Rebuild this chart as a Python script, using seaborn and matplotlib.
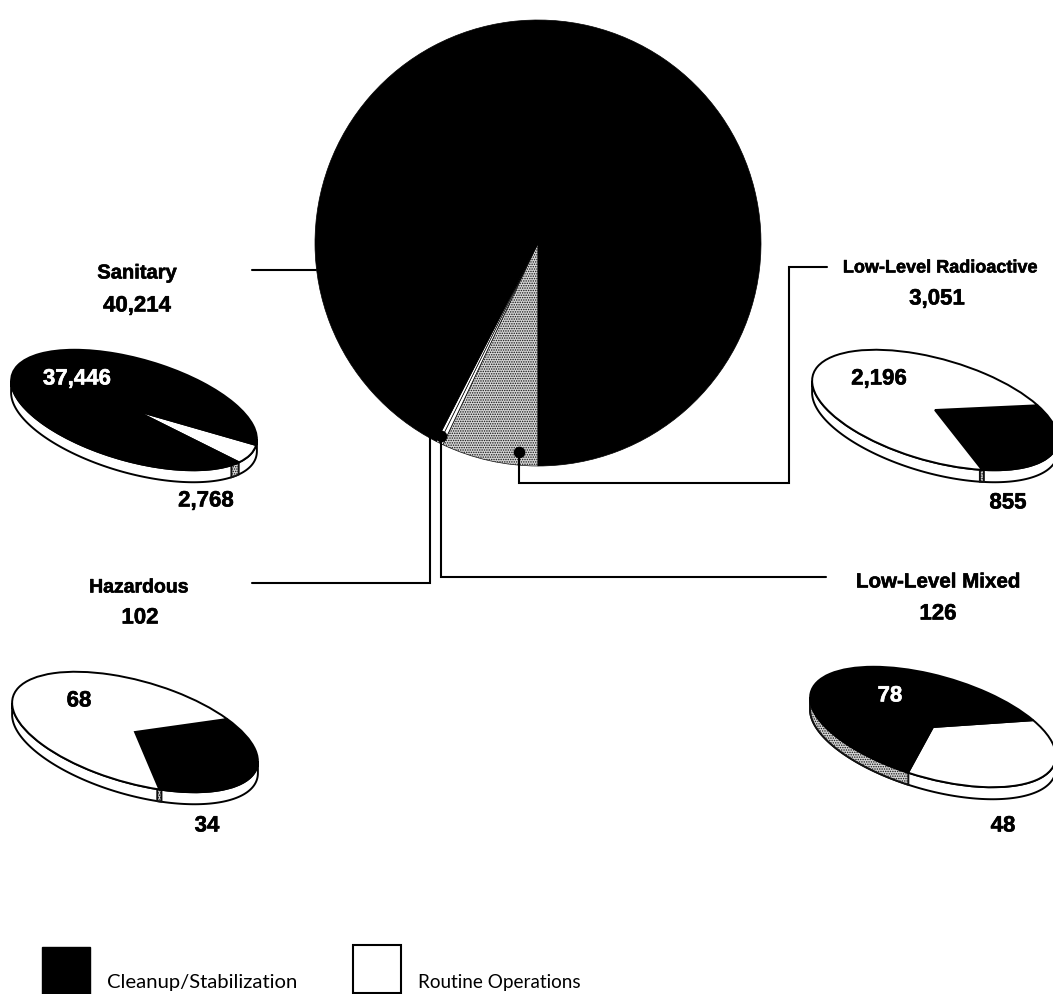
import matplotlib
matplotlib.use('Agg')
import matplotlib.pyplot as plt
import matplotlib.patheffects as pe
from matplotlib.patches import Polygon, Rectangle
from matplotlib.transforms import Affine2D
import numpy as np
import seaborn as sns

# waste volumes
main_names = ['Low-Level Radioactive', 'Low-Level Mixed', 'Hazardous', 'Sanitary']
main_values = [3051, 126, 102, 40214]

sanitary_values = [2768, 37446]
radioactive_values = [855, 2196]
mixed_values = [48, 78]
hazardous_values = [34, 68]

legend_names = ['Cleanup/Stabilization', 'Routine Operations']

W, H = 1053, 995
TILT = 16
A, B = 127, 51
DEPTH = 12
SPECKLE = 'speckle'

sns.set_theme(style='white')
plt.rcParams['font.family'] = ['Liberation Sans', 'DejaVu Sans']
plt.rcParams['hatch.linewidth'] = 0.7

fig = plt.figure(figsize=(W / 100, H / 100), dpi=100, facecolor='white')
ax = fig.add_axes([0, 0, 1, 1])


def py(y):
    # picture rows count from the top
    return H - y


def set_speckle(patch):
    patch.set_facecolor('#d6d6d6')
    patch.set_hatch('.......')
    patch.set_edgecolor('#111111')


def ellipse_xy(cx, cy, t):
    t = np.radians(t)
    th = np.radians(TILT)
    x = A * np.cos(t) * np.cos(th) + B * np.sin(t) * np.sin(th)
    y = -A * np.cos(t) * np.sin(th) + B * np.sin(t) * np.cos(th)
    return cx + x, py(cy) + y


def rim_band(cx, cy, t0, t1, face='white'):
    t = np.linspace(t0, t1, 120)
    x, y = ellipse_xy(cx, cy, t)
    pts = np.vstack([np.c_[x, y], np.c_[x[::-1], y[::-1] - DEPTH]])
    band = Polygon(pts, closed=True, facecolor='white', edgecolor='black', lw=1.4, zorder=0.5)
    if face == SPECKLE:
        set_speckle(band)
    ax.add_patch(band)


def small_pie(values, colors, start, cx, cy, bands):
    wedges, _ = ax.pie(values, colors=colors, startangle=start, counterclock=False,
                       center=(0, 0), radius=1, frame=True,
                       wedgeprops={'edgecolor': 'black', 'linewidth': 1.4})
    tr = Affine2D().scale(A, B).rotate_deg(-TILT).translate(cx, py(cy)) + ax.transData
    for w in wedges:
        w.set_transform(tr)
    # rim, left extreme to right extreme along the lower side
    t_right = np.degrees(np.arctan2(B * np.sin(np.radians(TILT)), A * np.cos(np.radians(TILT))))
    rim_band(cx, cy, t_right - 180, t_right)
    for t0, t1, face in bands:
        rim_band(cx, cy, t0, t1, face)


# big pie
main_wedges, _ = ax.pie(main_values, colors=['white', 'white', 'white', 'black'],
                        startangle=270, counterclock=False, center=(538, py(244)), radius=223,
                        frame=True, wedgeprops={'edgecolor': 'black', 'linewidth': 0.5})
set_speckle(main_wedges[0])

# the four tilted pies
small_pie(sanitary_values, ['white', 'black'], 0, 134, 411, [(-31, -25, SPECKLE)])
small_pie(radioactive_values, ['black', 'white'], 40, 935, 411, [(-62, -60, SPECKLE)])
small_pie(mixed_values, ['white', 'black'], 42, 933, 728, [(-173.8, -95, SPECKLE)])
small_pie(hazardous_values, ['black', 'white'], 48, 135, 733, [(-73, -71, SPECKLE)])

# leader lines
leaders = [
    ([252, 316], [271, 271]),
    ([252, 430, 430], [584, 584, 436]),
    ([826, 441, 441], [578, 578, 437]),
    ([827, 789, 789, 519, 519], [268, 268, 484, 484, 453]),
]
for xs, ys in leaders:
    ax.plot(xs, [py(v) for v in ys], color='black', lw=1.5, solid_joinstyle='miter', zorder=3)

sns.scatterplot(x=[441, 519], y=[py(437), py(453)], s=70, color='black', linewidth=0,
                ax=ax, legend=False, zorder=4)


def label(x, y, s, size=16, color='black'):
    t = ax.text(x, py(y + 2), s, ha='center', va='center', fontsize=size, fontweight='bold',
                color=color, zorder=5)
    t.set_path_effects([pe.withStroke(linewidth=0.4, foreground=color)])


# titles and totals
label(137, 272, 'Sanitary', 14.5)
label(137, 305, f'{main_values[3]:,}')
label(139, 587, 'Hazardous', 14)
label(140, 617, f'{main_values[2]}')
label(940, 267, 'Low-Level Radioactive', 13)
label(937, 298, f'{main_values[0]:,}')
label(938, 581, 'Low-Level Mixed', 14.8)
label(938, 613, f'{main_values[1]}')

# values on the small pies
label(77, 378, f'{sanitary_values[1]:,}', color='white')
label(206, 500, f'{sanitary_values[0]:,}')
label(879, 378, f'{radioactive_values[1]:,}')
label(1008, 502, f'{radioactive_values[0]}')
label(890, 695, f'{mixed_values[1]}', color='white')
label(1003, 825, f'{mixed_values[0]}')
label(79, 700, f'{hazardous_values[1]}')
label(207, 825, f'{hazardous_values[0]}')

# legend
ax.add_patch(Rectangle((42, py(995)), 48, 47, facecolor='black', edgecolor='black', lw=1))
ax.add_patch(Rectangle((353, py(994)), 48, 48, facecolor='white', edgecolor='black', lw=1.5))
ax.text(107, py(983), legend_names[0], ha='left', va='center', fontsize=14.6, family='Lato', color='black')
ax.text(418, py(983), legend_names[1], ha='left', va='center', fontsize=13.6, family='Lato', color='black')

ax.set_xlim(0, W)
ax.set_ylim(0, H)
ax.set_xlabel('')
ax.set_ylabel('')
ax.set_axis_off()

fig.savefig('out.png', dpi=100, facecolor='white')
